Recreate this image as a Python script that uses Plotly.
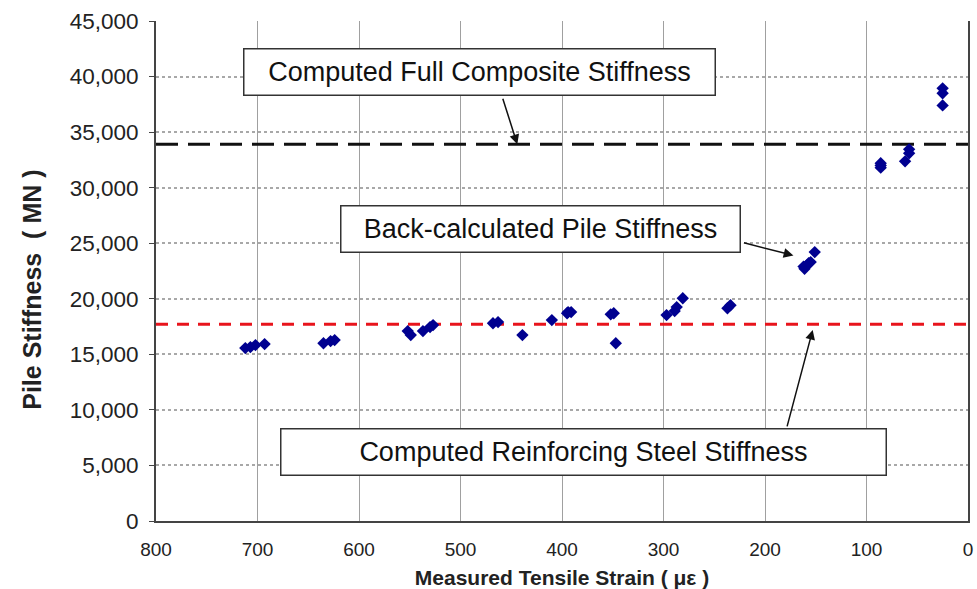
import plotly.graph_objects as go

# Measured tensile strain (microstrain) and back-calculated pile stiffness (MN)
strain = [712, 707, 702, 693,
          635, 628, 624,
          552, 549, 537, 530, 527,
          468, 463,
          439,
          410,
          395, 394, 391,
          352, 349, 347,
          297, 289, 287, 281,
          237, 234,
          162, 161, 159, 157, 155, 151,
          86, 86, 86,
          62, 58, 58,
          25, 25, 25]
stiffness = [15560, 15650, 15830, 15920,
             16000, 16190, 16280,
             17090, 16730, 17090, 17450, 17630,
             17800, 17900,
             16730,
             18080,
             18700, 18800, 18800,
             18600, 18700, 16000,
             18530, 18890, 19250, 20050,
             19150, 19420,
             22900, 22700, 23000, 23200, 23300, 24200,
             32200, 32000, 31800,
             32370, 33450, 33100,
             37400, 38500, 38940]

# Computed reference stiffness levels (MN)
full_composite = 33900
reinforcing_steel = 17700

x_ticks = [800, 700, 600, 500, 400, 300, 200, 100, 0]
y_ticks = [0, 5000, 10000, 15000, 20000, 25000, 30000, 35000, 40000, 45000]

FONT = "Liberation Sans, Arial, sans-serif"

fig = go.Figure()

fig.add_trace(go.Scatter(
    x=[800, 0], y=[full_composite, full_composite], mode="lines",
    line=dict(color="#111111", width=3, dash="22px,10px"),
    hoverinfo="skip", showlegend=False))
fig.add_trace(go.Scatter(
    x=[800, 0], y=[reinforcing_steel, reinforcing_steel], mode="lines",
    line=dict(color="#e8141c", width=3, dash="12px,9px"),
    hoverinfo="skip", showlegend=False))
fig.add_trace(go.Scatter(
    x=strain, y=stiffness, mode="markers",
    marker=dict(symbol="diamond", size=9.5, color="#000090", line=dict(width=0)),
    showlegend=False))

# Callout boxes
boxes = [
    ("Computed Full Composite Stiffness", 0.399, 0.898, 470),
    ("Back-calculated Pile Stiffness", 0.473, 0.584, 398),
    ("Computed Reinforcing Steel Stiffness", 0.526, 0.138, 604),
]
for text, px, py, w in boxes:
    fig.add_annotation(
        text=text, xref="paper", yref="paper", x=px, y=py,
        xanchor="center", yanchor="middle",
        showarrow=False, width=w, height=45, align="center",
        font=dict(family=FONT, size=27, color="#111111"),
        bgcolor="white", bordercolor="#333333", borderwidth=1.5, borderpad=0)

# Leader arrows from boxes to the lines / points
arrows = [
    (444, full_composite, -15, -47),
    (172, 23900, -51, -13),
    (153, 17200, -26, 98),
]
for hx, hy, ax, ay in arrows:
    fig.add_annotation(
        x=hx, y=hy, xref="x", yref="y", text="", showarrow=True,
        ax=ax, ay=ay, arrowhead=2, arrowsize=1.3, arrowwidth=1.5,
        arrowcolor="#111111", standoff=0, startstandoff=0)

# Vertical axis title
fig.add_annotation(
    text="<b>Pile Stiffness  ( MN )</b>", xref="paper", yref="paper",
    x=-0.153, y=0.462, xanchor="center", yanchor="middle", textangle=-90,
    showarrow=False, font=dict(family=FONT, size=25, color="#222222"))

fig.update_layout(
    width=977, height=589,
    margin=dict(l=156, r=9, t=21, b=68),
    paper_bgcolor="white", plot_bgcolor="white",
    font=dict(family=FONT, color="#222222"),
)
fig.update_xaxes(
    range=[800, 0], tickvals=x_ticks, ticktext=[str(v) for v in x_ticks],
    showgrid=True, gridcolor="#a0a0a0", gridwidth=1,
    showline=True, linecolor="#444444", linewidth=2, mirror=False,
    ticks="", ticklabelstandoff=10, zeroline=False, automargin=False,
    tickfont=dict(family=FONT, size=19, color="#222222"),
    title=dict(text="<b>Measured Tensile Strain ( \u03bc\u03b5 )</b>", standoff=13,
               font=dict(family=FONT, size=21, color="#222222")),
)
fig.update_yaxes(
    range=[0, 45000], tickvals=y_ticks, tickformat=",d",
    showgrid=True, gridcolor="#a8a8a8", gridwidth=1.5, griddash="dot",
    showline=True, linecolor="#444444", linewidth=2, mirror=True,
    ticks="outside", ticklen=5, tickcolor="#444444", ticklabelstandoff=6,
    zeroline=False, automargin=False,
    tickfont=dict(family=FONT, size=22.5, color="#222222"),
)

fig.write_html("out.html")
